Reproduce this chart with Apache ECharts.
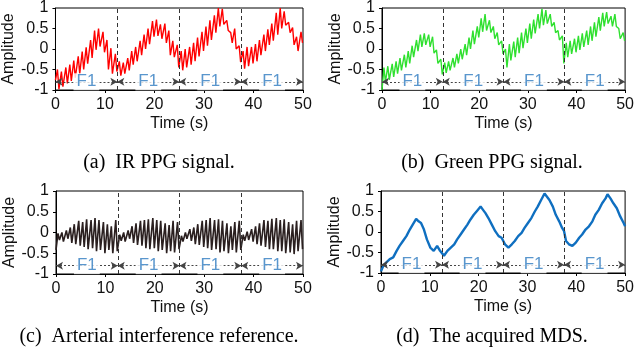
<!DOCTYPE html>
<html><head><meta charset="utf-8">
<script src="https://cdn.jsdelivr.net/npm/echarts@6/dist/echarts.min.js"></script>
<style>html,body{margin:0;padding:0;background:#fff}#c{width:637px;height:362px}</style>
</head><body><div id="c"></div>
<script>
// ---- data ----
const troughT = [0.0,0.7,1.5,2.4,3.2,4.0,4.9,5.7,6.5,7.4,8.2,9.0,9.9,10.7,11.5,12.4,
  13.2,14.0,14.9,15.7,16.5,17.4,18.2,19.0,19.9,20.7,21.5,22.4,23.2,24.0,24.9,
  25.7,26.5,27.4,28.2,29.0,29.9,30.7,31.5,32.4,33.2,34.0,34.9,35.7,36.5,37.4,
  38.2,39.0,39.9,40.7,41.5,42.4,43.2,44.0,44.9,45.7,46.5,47.4,48.2,49.0,49.9];
const peakT = [0.4,1.2,2.1,2.9,3.7,4.6,5.4,6.2,7.1,7.9,8.7,9.6,10.4,11.2,12.1,
  12.9,13.7,14.6,15.4,16.2,17.1,17.9,18.7,19.6,20.4,21.2,22.1,22.9,23.7,24.6,
  25.4,26.2,27.1,27.9,28.7,29.6,30.4,31.2,32.1,32.9,33.7,34.6,35.4,36.2,37.1,
  37.9,38.7,39.6,40.4,41.2,42.1,42.9,43.7,44.6,45.4,46.2,47.1,47.9,48.7,49.6];

const irTrough = [-0.76,-0.98,-0.92,-0.84,-0.78,-0.7,-0.6,-0.5,-0.36,-0.22,-0.02,0.06,-0.08,-0.5,-0.6,-0.55,
  -0.65,-0.6,-0.52,-0.38,-0.3,-0.15,0.0,0.12,0.3,0.32,0.25,0.15,-0.15,-0.2,-0.45,
  -0.52,-0.45,-0.38,-0.3,-0.18,-0.05,0.08,0.22,0.4,0.55,0.6,0.45,0.15,0.0,-0.32,
  -0.48,-0.42,-0.35,-0.3,-0.15,-0.05,0.1,0.2,0.35,0.5,0.58,0.4,0.1,-0.05,0.15];
const irPeak = [-0.5,-0.55,-0.45,-0.38,-0.28,-0.18,-0.06,0.04,0.22,0.45,0.5,0.42,0.22,0.02,-0.12,
  -0.3,-0.33,-0.22,-0.05,0.05,0.2,0.35,0.5,0.68,0.72,0.6,0.62,0.45,0.2,0.1,
  -0.05,0.0,0.05,0.15,0.28,0.42,0.55,0.7,0.82,1.0,0.98,0.7,0.4,0.5,0.08,
  -0.05,0.05,0.05,0.12,0.22,0.35,0.48,0.62,0.88,1.0,0.92,0.65,0.52,0.3,0.42];

const greenTrough = [-1.0,-0.8,-0.75,-0.68,-0.6,-0.52,-0.45,-0.35,-0.2,-0.05,0.05,0.1,0.05,-0.1,-0.35,-0.62,
  -0.58,-0.52,-0.45,-0.35,-0.25,-0.15,0.0,0.12,0.28,0.42,0.45,0.4,0.25,0.1,-0.12,
  -0.45,-0.28,-0.2,-0.1,0.02,0.15,0.25,0.38,0.5,0.58,0.62,0.55,0.4,0.22,-0.35,
  -0.2,-0.12,-0.08,-0.02,0.05,0.1,0.2,0.3,0.45,0.55,0.62,0.55,0.55,0.25,0.2];
const greenPeak = [-0.45,-0.42,-0.36,-0.3,-0.22,-0.14,-0.05,0.08,0.22,0.35,0.38,0.35,0.3,-0.02,-0.25,
  -0.33,-0.3,-0.22,-0.12,0.0,0.12,0.28,0.45,0.55,0.75,0.85,0.7,0.55,0.4,0.2,
  0.0,0.12,0.18,0.28,0.4,0.5,0.62,0.72,0.85,0.98,0.95,0.85,0.65,0.45,0.32,
  0.15,0.2,0.25,0.32,0.38,0.45,0.55,0.65,0.78,0.88,0.9,0.8,0.85,0.5,0.4];

const artTrough = [-0.42,-0.18,-0.22,-0.15,-0.25,-0.28,-0.32,-0.35,-0.4,-0.38,-0.45,-0.42,-0.5,-0.42,-0.5,-0.45,
  -0.2,-0.22,-0.15,-0.25,-0.3,-0.32,-0.38,-0.4,-0.38,-0.45,-0.42,-0.5,-0.45,-0.48,-0.4,
  -0.22,-0.15,-0.2,-0.28,-0.3,-0.35,-0.38,-0.42,-0.4,-0.48,-0.45,-0.5,-0.42,-0.48,-0.42,
  -0.2,-0.18,-0.22,-0.28,-0.32,-0.35,-0.4,-0.4,-0.45,-0.45,-0.5,-0.48,-0.52,-0.45,-0.4];
const artPeak = [-0.02,0.0,0.05,0.12,0.2,0.28,0.25,0.32,0.3,0.35,0.3,0.25,0.2,0.15,0.3,
  -0.05,0.0,0.05,0.15,0.22,0.28,0.3,0.32,0.35,0.3,0.28,0.22,0.18,0.28,0.25,
  -0.08,0.0,0.08,0.12,0.2,0.28,0.3,0.35,0.3,0.32,0.28,0.22,0.15,0.25,0.28,
  -0.05,0.02,0.08,0.15,0.22,0.3,0.28,0.33,0.35,0.3,0.32,0.25,0.2,0.28,0.3];

const mdsT = [0,0.5,1.1,1.8,2.5,3.2,3.8,4.5,5.2,5.9,6.5,7.2,7.7,8.2,8.8,9.4,10.1,10.8,11.5,12.1,12.9,13.6,14.3,15.0,15.6,16.3,17.0,17.7,18.3,19.0,19.7,20.4,20.9,21.4,22.0,22.7,23.4,24.1,24.7,25.4,26.1,26.8,27.4,28.1,28.8,29.4,30.1,30.8,31.5,32.1,32.8,33.5,34.0,34.5,35.2,35.8,36.5,37.1,37.5,37.9,38.5,39.2,39.9,40.6,41.2,41.9,42.6,43.3,43.9,44.6,45.3,46.0,46.4,47.0,47.6,48.3,49.0,49.7,50];
const mdsV = [-0.96,-0.82,-0.74,-0.66,-0.62,-0.46,-0.34,-0.22,-0.1,0.06,0.18,0.32,0.26,0.22,0.06,-0.18,-0.38,-0.46,-0.34,-0.46,-0.58,-0.46,-0.38,-0.3,-0.18,-0.06,0.06,0.18,0.3,0.42,0.52,0.62,0.54,0.46,0.34,0.18,0.02,-0.1,-0.14,-0.3,-0.38,-0.3,-0.22,-0.1,-0.02,0.1,0.22,0.34,0.5,0.62,0.78,0.94,0.86,0.78,0.62,0.42,0.26,0.1,0.02,-0.22,-0.3,-0.34,-0.26,-0.14,-0.06,0.06,0.14,0.26,0.42,0.54,0.7,0.82,0.92,0.82,0.7,0.58,0.38,0.22,0.14];

const boundaries = [12.5, 25, 37.5];
const segStart = [0, 12.5, 25, 37.5];
const segEnd = [12.5, 25, 37.5, 50];
const segLabel = 'F1';
const arrowLevel = -0.8;
const xTicks = {min: 0, max: 50, interval: 10};
const yTicks = {min: -1, max: 1, interval: 0.5};
const captions = ['(a)  IR PPG signal.', '(b)  Green PPG signal.', '(c)  Arterial interference reference.', '(d)  The acquired MDS.'];

// ---- build ----
const SANS = '"Liberation Sans", Arial, sans-serif';
const SERIF = '"Liberation Serif", "Times New Roman", serif';
function beats(tr, pk) {
  const out = [];
  for (let i = 0; i < troughT.length; i++) {
    out.push([troughT[i], tr[i]]);
    if (i < peakT.length) out.push([peakT[i], pk[i]]);
  }
  return out;
}
const lines = [
  {data: beats(irTrough, irPeak), color: '#ff0000', width: 1.4},
  {data: beats(greenTrough, greenPeak), color: '#2fe02f', width: 1.4},
  {data: beats(artTrough, artPeak), color: '#2a1f1f', width: 1.6},
  {data: mdsT.map((t, i) => [t, mdsV[i]]), color: '#0f6fc0', width: 2.4}
];
const grids = [
  {left: 54, top: 7.5, width: 249, height: 82.5},
  {left: 382, top: 7.5, width: 246, height: 82.5},
  {left: 56, top: 191, width: 247, height: 83},
  {left: 381, top: 191, width: 247, height: 82}
];
const capPos = [[159, 163], [492, 163], [159, 337], [492, 337]];

const option = {
  animation: false,
  backgroundColor: '#fff',
  grid: grids.map(g => Object.assign({show: true, borderColor: '#000', borderWidth: 1, backgroundColor: 'transparent'}, g)),
  xAxis: grids.map((g, i) => ({
    type: 'value', gridIndex: i, min: xTicks.min, max: xTicks.max, interval: xTicks.interval,
    name: 'Time (s)', nameLocation: 'middle', nameGap: 26,
    nameTextStyle: {fontFamily: SANS, fontSize: 16, color: '#111'},
    axisLine: {show: true, onZero: false, lineStyle: {color: '#000', width: 1}},
    axisTick: {show: true, inside: false, length: 3, lineStyle: {color: '#000'}},
    axisLabel: {fontFamily: SANS, fontSize: 16, color: '#111', margin: 7},
    splitLine: {show: false}
  })),
  yAxis: grids.map((g, i) => ({
    type: 'value', gridIndex: i, min: yTicks.min, max: yTicks.max, interval: yTicks.interval,
    name: 'Amplitude', nameLocation: 'middle', nameGap: 34,
    nameTextStyle: {fontFamily: SANS, fontSize: 16, color: '#111'},
    axisLine: {show: true, onZero: false, lineStyle: {color: '#000', width: 1}},
    axisTick: {show: true, inside: false, length: 3, lineStyle: {color: '#000'}},
    axisLabel: {fontFamily: SANS, fontSize: 16, color: '#111', margin: 7},
    splitLine: {show: false}
  })),
  series: [],
  graphic: captions.map((c, i) => ({
    type: 'text', x: capPos[i][0], y: capPos[i][1],
    style: {text: c, font: '20px ' + SERIF, fill: '#000', align: 'center', verticalAlign: 'middle'}
  }))
};
lines.forEach((L, i) => {
  option.series.push({
    type: 'line', xAxisIndex: i, yAxisIndex: i, data: L.data, showSymbol: false, symbol: 'none',
    lineStyle: {color: L.color, width: L.width}, z: 3,
    markLine: {
      silent: true, symbol: 'none', label: {show: false},
      lineStyle: {color: '#333', type: [4, 3], width: 1},
      data: boundaries.map(b => ({xAxis: b}))
    }
  });
  option.series.push({
    type: 'scatter', xAxisIndex: i, yAxisIndex: i, symbolSize: 0, z: 5,
    data: segStart.map((s, k) => [(s + segEnd[k]) / 2, arrowLevel]),
    label: {show: true, position: 'inside', formatter: segLabel, color: '#2f7cc0',
      fontFamily: SANS, fontSize: 17, backgroundColor: '#fff', padding: [0, 3]},
    markLine: {
      silent: true, symbol: ['arrow', 'arrow'], symbolSize: [6, 7], label: {show: false},
      lineStyle: {color: '#444', type: [2, 2], width: 1},
      data: segStart.map((s, k) => [{coord: [s, arrowLevel]}, {coord: [segEnd[k], arrowLevel]}])
    }
  });
});
const chart = echarts.init(document.getElementById('c'));
chart.setOption(option);
</script></body></html>
